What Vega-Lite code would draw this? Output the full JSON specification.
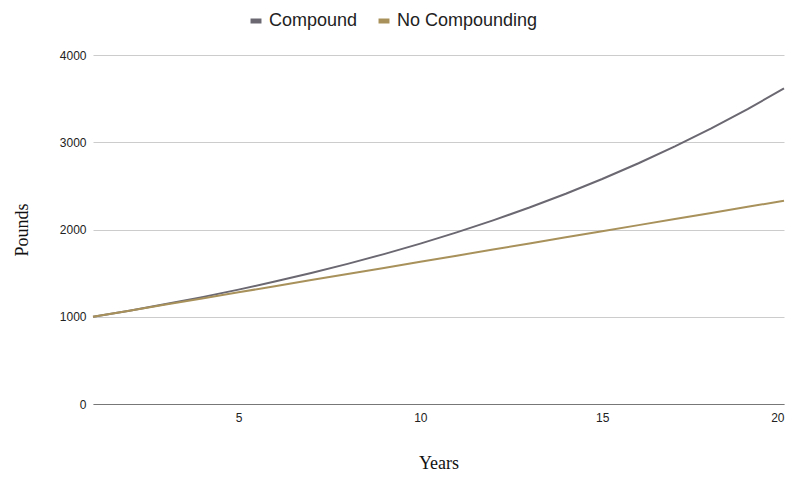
{
  "$schema": "https://vega.github.io/schema/vega-lite/v6.json",
  "width": 691,
  "height": 349,
  "autosize": {"type": "none"},
  "padding": {"left": 93, "top": 55, "right": 16, "bottom": 76},
  "background": "white",
  "view": {"stroke": null},
  "data": {
    "values": [
      {"year": 1, "series": "Compound", "pounds": 1000},
      {"year": 2, "series": "Compound", "pounds": 1070},
      {"year": 3, "series": "Compound", "pounds": 1145},
      {"year": 4, "series": "Compound", "pounds": 1225},
      {"year": 5, "series": "Compound", "pounds": 1311},
      {"year": 6, "series": "Compound", "pounds": 1403},
      {"year": 7, "series": "Compound", "pounds": 1501},
      {"year": 8, "series": "Compound", "pounds": 1606},
      {"year": 9, "series": "Compound", "pounds": 1718},
      {"year": 10, "series": "Compound", "pounds": 1838},
      {"year": 11, "series": "Compound", "pounds": 1967},
      {"year": 12, "series": "Compound", "pounds": 2105},
      {"year": 13, "series": "Compound", "pounds": 2252},
      {"year": 14, "series": "Compound", "pounds": 2410},
      {"year": 15, "series": "Compound", "pounds": 2579},
      {"year": 16, "series": "Compound", "pounds": 2759},
      {"year": 17, "series": "Compound", "pounds": 2952},
      {"year": 18, "series": "Compound", "pounds": 3159},
      {"year": 19, "series": "Compound", "pounds": 3380},
      {"year": 20, "series": "Compound", "pounds": 3617},
      {"year": 1, "series": "No Compounding", "pounds": 1000},
      {"year": 2, "series": "No Compounding", "pounds": 1070},
      {"year": 3, "series": "No Compounding", "pounds": 1140},
      {"year": 4, "series": "No Compounding", "pounds": 1210},
      {"year": 5, "series": "No Compounding", "pounds": 1280},
      {"year": 6, "series": "No Compounding", "pounds": 1350},
      {"year": 7, "series": "No Compounding", "pounds": 1420},
      {"year": 8, "series": "No Compounding", "pounds": 1490},
      {"year": 9, "series": "No Compounding", "pounds": 1560},
      {"year": 10, "series": "No Compounding", "pounds": 1630},
      {"year": 11, "series": "No Compounding", "pounds": 1700},
      {"year": 12, "series": "No Compounding", "pounds": 1770},
      {"year": 13, "series": "No Compounding", "pounds": 1840},
      {"year": 14, "series": "No Compounding", "pounds": 1910},
      {"year": 15, "series": "No Compounding", "pounds": 1980},
      {"year": 16, "series": "No Compounding", "pounds": 2050},
      {"year": 17, "series": "No Compounding", "pounds": 2120},
      {"year": 18, "series": "No Compounding", "pounds": 2190},
      {"year": 19, "series": "No Compounding", "pounds": 2260},
      {"year": 20, "series": "No Compounding", "pounds": 2330}
    ]
  },
  "mark": {"type": "line", "strokeWidth": 2},
  "encoding": {
    "x": {
      "field": "year",
      "type": "quantitative",
      "title": "Years",
      "scale": {"domain": [1, 20], "nice": false, "zero": false},
      "axis": {
        "values": [5, 10, 15, 20],
        "format": "d",
        "grid": false,
        "ticks": false,
        "domainColor": "#777777",
        "domainWidth": 1.2,
        "labelFont": "Liberation Sans",
        "labelFontSize": 12,
        "labelColor": "#222222",
        "labelPadding": 8,
        "titleFont": "Liberation Serif",
        "titleFontSize": 18,
        "titleFontWeight": "normal",
        "titleColor": "#111111",
        "titlePadding": 31
      }
    },
    "y": {
      "field": "pounds",
      "type": "quantitative",
      "title": "Pounds",
      "scale": {"domain": [0, 4000], "nice": false},
      "axis": {
        "values": [0, 1000, 2000, 3000, 4000],
        "format": "d",
        "grid": true,
        "gridColor": "#cccccc",
        "domain": false,
        "ticks": false,
        "labelFont": "Liberation Sans",
        "labelFontSize": 12,
        "labelColor": "#222222",
        "labelPadding": 7,
        "titleFont": "Liberation Serif",
        "titleFontSize": 18,
        "titleFontWeight": "normal",
        "titleColor": "#111111",
        "titlePadding": 28
      }
    },
    "color": {
      "field": "series",
      "type": "nominal",
      "title": null,
      "scale": {
        "domain": ["Compound", "No Compounding"],
        "range": ["#6b6872", "#a8915a"]
      },
      "legend": {
        "orient": "none",
        "direction": "horizontal",
        "legendX": 154,
        "legendY": -43,
        "symbolType": "stroke",
        "symbolStrokeWidth": 5,
        "symbolSize": 120,
        "labelFont": "Liberation Sans",
        "labelFontSize": 18,
        "labelColor": "#222222",
        "columnPadding": 10,
        "symbolOffset": 0
      }
    }
  }
}
